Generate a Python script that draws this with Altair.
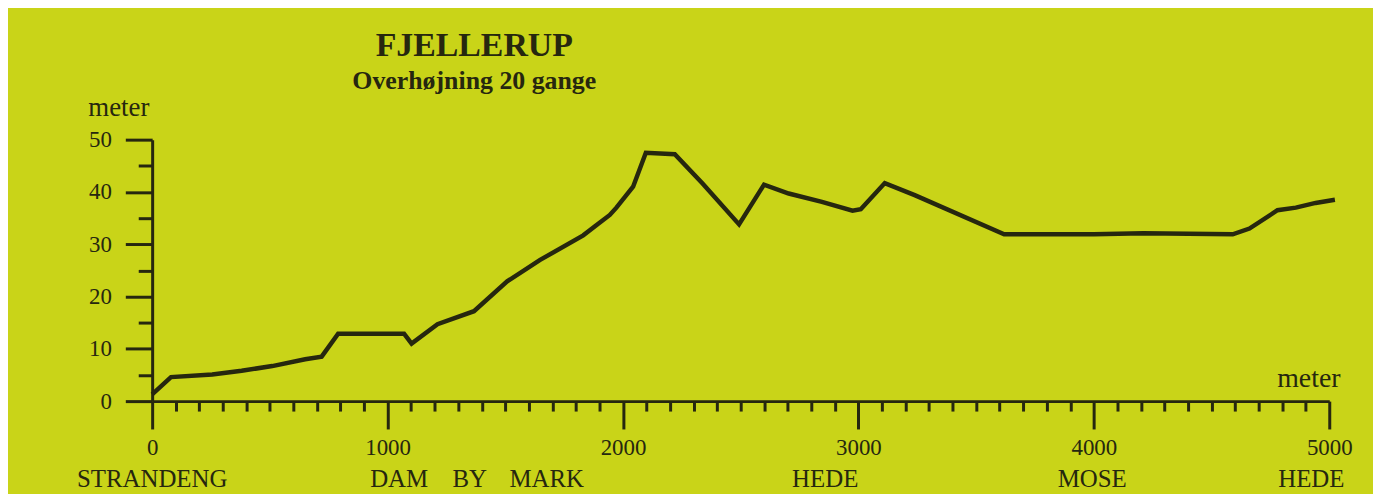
import altair as alt
import pandas as pd

# Terrain profile (distance in meter, elevation in meter)
distance = [0, 80, 255, 380, 510, 650, 720, 790, 1070, 1102, 1212, 1367, 1508,
            1648, 1831, 1888, 1944, 1972, 2043, 2097, 2220, 2338, 2493, 2599,
            2704, 2845, 2975, 3010, 3112, 3239, 3619, 4000, 4210, 4590, 4661,
            4780, 4858, 4942, 5024]
elevation = [1.3, 4.6, 5.1, 5.8, 6.7, 8.0, 8.5, 12.9, 12.9, 11.0, 14.7, 17.2, 22.9,
             27.0, 31.7, 33.7, 35.6, 37.0, 41.0, 47.5, 47.2, 41.6, 33.8, 41.4,
             39.7, 38.1, 36.4, 36.7, 41.7, 39.4, 31.9, 31.9, 32.1, 31.9, 33.0,
             36.5, 37.0, 37.9, 38.5]

# Landscape labels under the x axis
zone_names = ["STRANDENG", "DAM", "BY", "MARK", "HEDE", "MOSE", "HEDE"]
zone_pos = [0, 1049, 1349, 1676, 2859, 3993, 4924]

x_ticks = list(range(0, 5001, 100))
y_ticks = list(range(0, 51, 5))

INK = "#26270f"
BG = "#c9d418"
FONT = "Liberation Serif"

profile = pd.DataFrame({"d": distance, "h": elevation})
zones = pd.DataFrame({"name": zone_names, "d": zone_pos})

x_scale = alt.Scale(domain=[0, 5000], nice=False, zero=False)
y_scale = alt.Scale(domain=[0, 50], nice=False)

x_axis = alt.Axis(
    values=x_ticks,
    labelExpr="datum.value % 1000 === 0 ? format(datum.value, 'd') : ''",
    tickSize={"condition": {"test": "datum.value % 1000 === 0", "value": 28}, "value": 10},
    tickWidth=3, tickColor=INK,
    domainWidth=3, domainColor=INK,
    labelFont=FONT, labelFontSize=23, labelColor=INK,
    labelPadding=8, labelOverlap=False, labelFlush=False, labelBound=False,
    grid=False,
    title="meter", titleFont=FONT, titleFontSize=28, titleFontWeight="normal",
    titleColor=INK, titleX=1163, titleY=-15, titleAlign="center",
    titleBaseline="alphabetic", titleAngle=0,
)

y_axis = alt.Axis(
    values=y_ticks,
    labelExpr="datum.value % 10 === 0 ? datum.label : ''",
    tickSize={"condition": {"test": "datum.value % 10 === 0", "value": 27}, "value": 14},
    tickWidth=3, tickColor=INK,
    domainWidth=3, domainColor=INK,
    labelFont=FONT, labelFontSize=23, labelColor=INK,
    labelPadding=14, labelOverlap=False, labelFlush=False, labelBound=False,
    grid=False,
    title="meter", titleFont=FONT, titleFontSize=27, titleFontWeight="normal",
    titleColor=INK, titleX=-34, titleY=-24, titleAlign="center",
    titleBaseline="alphabetic", titleAngle=0,
)

line = alt.Chart(profile).mark_line(color=INK, strokeWidth=4.5, clip=False).encode(
    x=alt.X("d:Q", scale=x_scale, axis=x_axis),
    y=alt.Y("h:Q", scale=y_scale, axis=y_axis),
)

labels = alt.Chart(zones).mark_text(
    font=FONT, fontSize=25, color=INK, baseline="alphabetic", align="center"
).encode(
    x=alt.X("d:Q", scale=x_scale, axis=x_axis),
    y=alt.value(349),
    text="name:N",
)

chart = alt.layer(line, labels).properties(
    width=1184,
    height=263,
    autosize=alt.AutoSizeParams(type="none"),
    padding={"left": 145, "top": 131, "right": 44, "bottom": 92},
    background=BG,
    title=alt.TitleParams(
        text="FJELLERUP",
        subtitle="Overhøjning 20 gange",
        font=FONT, fontSize=34, fontWeight="bold", color=INK,
        subtitleFont=FONT, subtitleFontSize=26, subtitleFontWeight="bold",
        subtitleColor=INK, subtitlePadding=5,
        anchor="middle", frame="group", dx=-268, offset=0,
    ),
).configure_view(stroke=None)

chart.save("out.html", embed_options={"renderer": "svg", "actions": False})
